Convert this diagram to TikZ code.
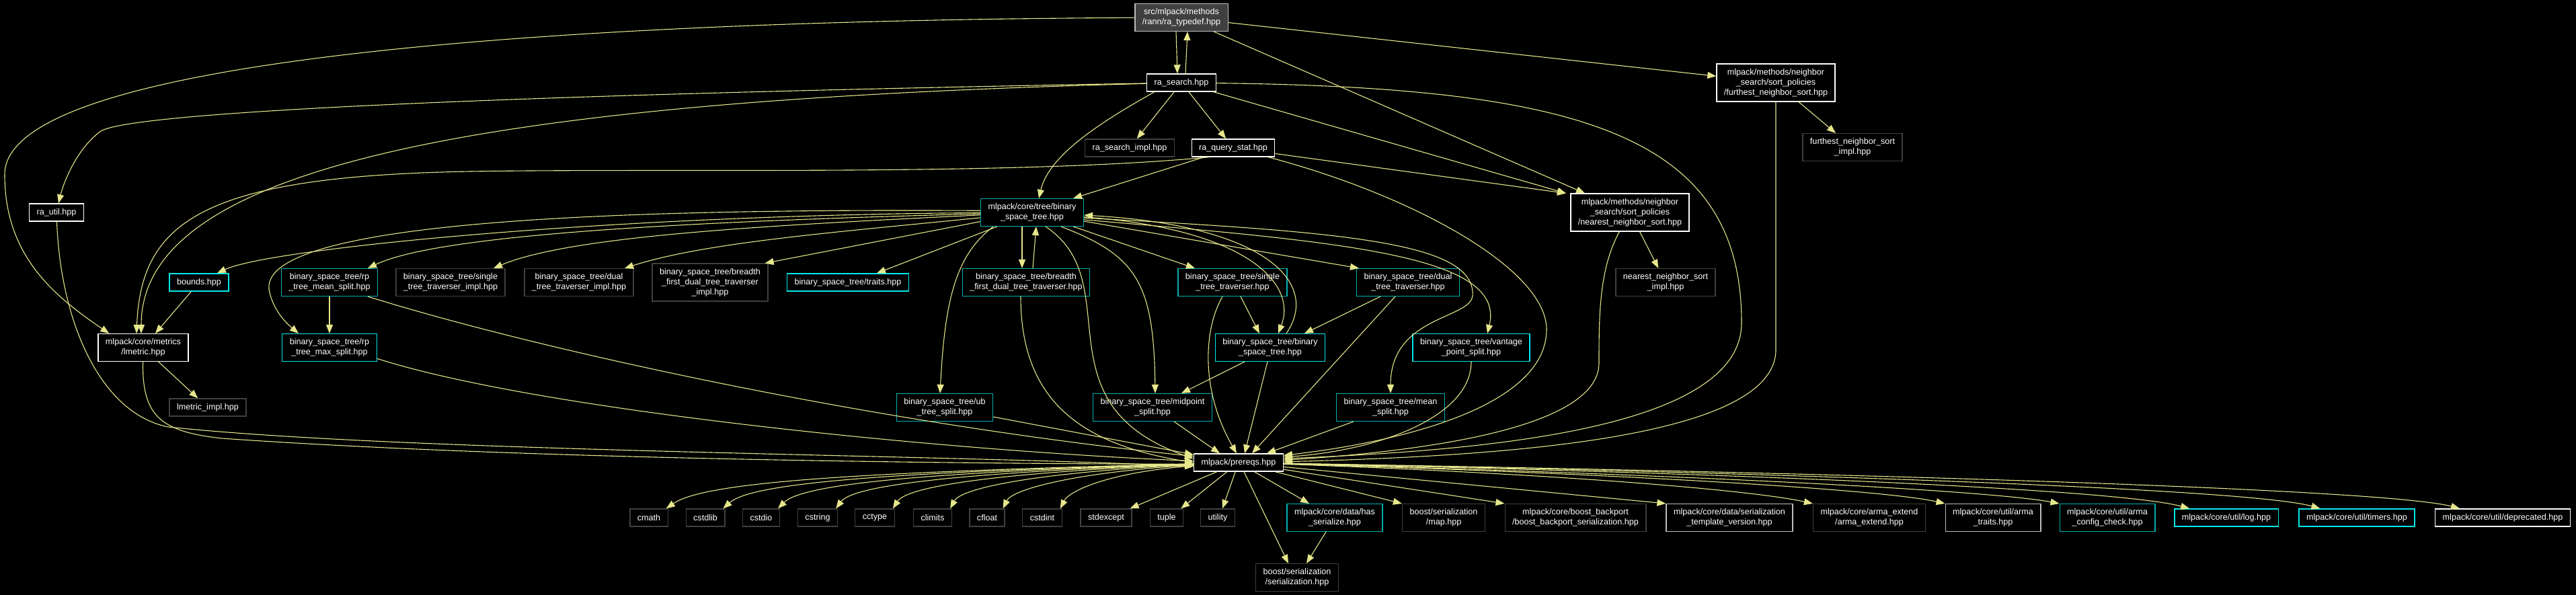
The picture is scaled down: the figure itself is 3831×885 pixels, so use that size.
\documentclass[tikz,border=0pt]{standalone}
\usepackage{fontspec}
\setmainfont{Liberation Sans}
\usetikzlibrary{arrows.meta}
\definecolor{edgecol}{RGB}{230,230,140}
\definecolor{tealline}{RGB}{0,176,176}
\definecolor{cyanline}{RGB}{0,232,232}
\definecolor{sysline}{RGB}{64,64,64}
\definecolor{greyline}{RGB}{190,190,190}
\definecolor{srcfill}{RGB}{64,64,64}
\newcommand{\hdrfont}{\fontsize{12.6}{15}\selectfont}

\begin{document}
\begin{tikzpicture}[x=1pt, y=-1pt, >={Triangle[length=13pt,width=10pt]},
  hdr/.style={draw, line width=1.3pt, fill=black, text=white, font=\hdrfont,
    align=center, inner xsep=11pt, inner ysep=7pt, minimum height=26pt},
  srcfile/.style={hdr, draw=greyline, fill=srcfill},
  docfile/.style={hdr, draw=white},
  greyfile/.style={hdr, draw=greyline},
  sysfile/.style={hdr, draw=sysline},
  treefile/.style={hdr, draw=tealline},
  cyanfile/.style={hdr, draw=cyanline},
  incl/.style={->, draw=edgecol, line width=1.1pt}]
  \fill[black] (0,0) rectangle (3831,885);
  \useasboundingbox (0,0) rectangle (3831,885);

  % the file itself and what it pulls in first
  \node[srcfile] (ra_typedef) at (1757,26) {src/mlpack/methods\\/rann/ra\_typedef.hpp};
  \node[docfile] (ra_search) at (1757,123) {ra\_search.hpp};
  \node[docfile] (fns) at (2641,123) {mlpack/methods/neighbor\\\_search/sort\_policies\\/furthest\_neighbor\_sort.hpp};
  \node[sysfile] (ra_search_impl) at (1680,220) {ra\_search\_impl.hpp};
  \node[docfile] (ra_query_stat) at (1834,220) {ra\_query\_stat.hpp};
  \node[sysfile] (fns_impl) at (2755,219) {furthest\_neighbor\_sort\\\_impl.hpp};
  \node[docfile] (ra_util) at (84,316) {ra\_util.hpp};
  \node[treefile] (bst) at (1535,316) {mlpack/core/tree/binary\\\_space\_tree.hpp};
  \node[docfile] (nns) at (2424,316) {mlpack/methods/neighbor\\\_search/sort\_policies\\/nearest\_neighbor\_sort.hpp};

  % tree headers
  \node[cyanfile] (bounds) at (296,420) {bounds.hpp};
  \node[treefile] (rp_mean) at (490,420) {binary\_space\_tree/rp\\\_tree\_mean\_split.hpp};
  \node[sysfile] (single_impl) at (670,420) {binary\_space\_tree/single\\\_tree\_traverser\_impl.hpp};
  \node[sysfile] (dual_impl) at (861,420) {binary\_space\_tree/dual\\\_tree\_traverser\_impl.hpp};
  \node[sysfile] (bf_impl) at (1056,420) {binary\_space\_tree/breadth\\\_first\_dual\_tree\_traverser\\\_impl.hpp};
  \node[cyanfile] (traits) at (1261,420) {binary\_space\_tree/traits.hpp};
  \node[treefile] (bf_trav) at (1526,420) {binary\_space\_tree/breadth\\\_first\_dual\_tree\_traverser.hpp};
  \node[treefile] (single_trav) at (1833,420) {binary\_space\_tree/single\\\_tree\_traverser.hpp};
  \node[treefile] (dual_trav) at (2094,420) {binary\_space\_tree/dual\\\_tree\_traverser.hpp};
  \node[sysfile] (nns_impl) at (2477,420) {nearest\_neighbor\_sort\\\_impl.hpp};
  \node[docfile] (metric) at (213,517) {mlpack/core/metrics\\/lmetric.hpp};
  \node[cyanfile] (rp_max) at (490,517) {binary\_space\_tree/rp\\\_tree\_max\_split.hpp};
  \node[cyanfile] (bst_bin) at (1889,517) {binary\_space\_tree/binary\\\_space\_tree.hpp};
  \node[cyanfile] (vp_split) at (2188,517) {binary\_space\_tree/vantage\\\_point\_split.hpp};
  \node[sysfile] (lmetric_impl) at (309,606) {lmetric\_impl.hpp};
  \node[treefile] (ub_split) at (1405,606) {binary\_space\_tree/ub\\\_tree\_split.hpp};
  \node[treefile] (mid_split) at (1714,606) {binary\_space\_tree/midpoint\\\_split.hpp};
  \node[treefile] (mean_split) at (2068,606) {binary\_space\_tree/mean\\\_split.hpp};

  % prereqs and its includes
  \node[docfile] (prereqs) at (1842,688) {mlpack/prereqs.hpp};
  \foreach \n/\x in {cmath/965, cstdlib/1049, cstdio/1132, cstring/1216, cctype/1301,
                     climits/1387, cfloat/1468, cstdint/1550, stdexcept/1645, tuple/1735, utility/1811}
    \node[sysfile] (\n) at (\x,770) {\n};
  \node[treefile] (has_ser) at (1985,770) {mlpack/core/data/has\\\_serialize.hpp};
  \node[sysfile] (boost_map) at (2147,770) {boost/serialization\\/map.hpp};
  \node[sysfile] (backport) at (2343,770) {mlpack/core/boost\_backport\\/boost\_backport\_serialization.hpp};
  \node[greyfile] (tmpl_ver) at (2572,770) {mlpack/core/data/serialization\\\_template\_version.hpp};
  \node[sysfile] (arma_ext) at (2780,770) {mlpack/core/arma\_extend\\/arma\_extend.hpp};
  \node[greyfile] (arma_traits) at (2964,770) {mlpack/core/util/arma\\\_traits.hpp};
  \node[treefile] (arma_cfg) at (3134,770) {mlpack/core/util/arma\\\_config\_check.hpp};
  \node[cyanfile] (log) at (3311,770) {mlpack/core/util/log.hpp};
  \node[cyanfile] (timers) at (3505,770) {mlpack/core/util/timers.hpp};
  \node[docfile] (deprecated) at (3722,770) {mlpack/core/util/deprecated.hpp};
  \node[sysfile] (boost_ser) at (1929,859) {boost/serialization\\/serialization.hpp};

  % edges: ra_typedef
  \draw[incl] ([xshift=-8pt]ra_typedef.south) -- ([xshift=-6pt]ra_search.north);
  \draw[incl] ([xshift=6pt]ra_search.north) -- ([xshift=9pt]ra_typedef.south);
  \draw[incl] (ra_typedef) -- (fns);
  \draw[incl] (ra_typedef) -- ([xshift=-67pt]nns.north);
  \draw[incl] (ra_typedef) .. controls (900,30) and (5,80) .. (7,260)
    .. controls (7,380) and (80,440) .. ([xshift=17pt]metric.north west);

  % edges: ra_search
  \draw[incl] (ra_search) .. controls (800,140) and (200,165) .. (150,195)
    .. controls (115,220) and (95,270) .. ([xshift=3pt]ra_util.north);
  \draw[incl] (ra_search) .. controls (700,150) and (210,250) .. ([xshift=-3pt]metric.north);
  \draw[incl] (ra_search) -- (ra_search_impl);
  \draw[incl] (ra_search) -- (ra_query_stat);
  \draw[incl] ([xshift=-40pt]ra_search.south) .. controls (1640,180) and (1560,230) .. ([xshift=10pt]bst.north);
  \draw[incl] (ra_search) -- ([xshift=-95pt]nns.north);
  \draw[incl] (ra_search) .. controls (2350,130) and (2590,200) .. (2590,480)
    .. controls (2590,640) and (2200,670) .. (prereqs.5);

  % edges: ra_query_stat
  \draw[incl] (ra_query_stat) -- ([xshift=-16pt]bst.north east);
  \draw[incl] (ra_query_stat) -- ([xshift=-95pt]nns.north);
  \draw[incl] ([xshift=-35pt]ra_query_stat.south) .. controls (1500,262) and (1000,250) .. (700,255)
    .. controls (300,262) and (210,330) .. ([xshift=-10pt]metric.north);
  \draw[incl] (ra_query_stat) .. controls (2100,290) and (2300,400) .. (2300,490)
    .. controls (2300,600) and (2100,655) .. (prereqs.9);

  % edges: sort policies
  \draw[incl] (nns) -- (nns_impl);
  \draw[incl] (nns) .. controls (2378,400) and (2378,470) .. (2378,540)
    .. controls (2378,640) and (2100,672) .. (prereqs.3);
  \draw[incl] (fns) -- (fns_impl);
  \draw[incl] (fns) -- (2641,520) .. controls (2641,650) and (2250,678) .. (prereqs.1);

  % edges: left side
  \draw[incl] (ra_util) .. controls (90,480) and (150,615) .. (250,635)
    .. controls (600,672) and (1400,676) .. (prereqs.185);
  \draw[incl] (metric) .. controls (211,620) and (240,642) .. (330,652)
    .. controls (800,685) and (1500,690) .. (prereqs.182);
  \draw[incl] (metric) -- (lmetric_impl);
  \draw[incl] (bounds) -- (metric);

  % edges: binary space tree
  \draw[incl] (bst) .. controls (900,320) and (400,370) .. ([xshift=27pt]bounds.north);
  \draw[incl] (bst) .. controls (1000,330) and (650,350) .. ([xshift=57pt]rp_mean.north);
  \draw[incl] (bst) .. controls (1150,335) and (850,350) .. ([xshift=64pt]single_impl.north);
  \draw[incl] (bst) .. controls (1250,345) and (1050,360) .. ([xshift=68pt]dual_impl.north);
  \draw[incl] (bst.190) -- ([xshift=-5pt]bf_impl.north east);
  \draw[incl] (bst.202) -- ([xshift=43pt]traits.north);
  \draw[incl] (bst.200) .. controls (1420,380) and (1405,450) .. ([xshift=-7pt]ub_split.north);
  \draw[incl] (bst.178) .. controls (900,310) and (390,330) .. (400,430)
    .. controls (405,460) and (425,480) .. ([xshift=-46pt]rp_max.north);
  \draw[incl] ([xshift=-15pt]bst.south) -- ([xshift=-6pt]bf_trav.north);
  \draw[incl] ([xshift=10pt]bf_trav.north) -- ([xshift=6pt]bst.south);
  \draw[incl] (bst) -- ([xshift=-56pt]single_trav.north);
  \draw[incl] (bst) -- ([xshift=-73pt]dual_trav.north);
  \draw[incl] (bst.-5) .. controls (1850,340) and (1930,420) .. ([xshift=12pt]bst_bin.north);
  \draw[incl] ([xshift=24pt]bst_bin.north) .. controls (1965,420) and (1880,335) .. (bst.-3);
  \draw[incl] (bst.-8) .. controls (2000,360) and (2240,380) .. ([xshift=24pt]vp_split.north);
  \draw[incl] (bst.-6) .. controls (2000,345) and (2195,360) .. (2190,440)
    .. controls (2186,475) and (2068,470) .. (mean_split.north);
  \draw[incl] ([xshift=43pt]bst.south) .. controls (1690,380) and (1716,420) .. ([xshift=4pt]mid_split.north);
  \draw[incl] ([xshift=20pt]bst.south) .. controls (1680,420) and (1540,600) .. (prereqs.175);

  % edges: traversers and splits
  \draw[incl] ([xshift=-8pt]bf_trav.south) .. controls (1518,590) and (1600,660) .. (prereqs.180);
  \draw[incl] ([xshift=12pt]single_trav.south) -- ([xshift=-16pt]bst_bin.north);
  \draw[incl] ([xshift=-15pt]single_trav.south) .. controls (1790,490) and (1785,580) .. ([xshift=-3pt]prereqs.north);
  \draw[incl] ([xshift=-41pt]dual_trav.south) -- ([xshift=51pt]bst_bin.north);
  \draw[incl] ([xshift=-19pt]dual_trav.south) -- ([xshift=20pt]prereqs.north);
  \draw[incl] ([xshift=-38pt]bst_bin.south) -- ([xshift=43pt]mid_split.north);
  \draw[incl] ([xshift=-4pt]bst_bin.south) -- ([xshift=9pt]prereqs.north);
  \draw[incl] (vp_split.south) .. controls (2188,620) and (2050,670) .. (prereqs.7);
  \draw[incl] ([xshift=-55pt]mean_split.south) -- ([xshift=42pt]prereqs.north);
  \draw[incl] ([xshift=32pt]mid_split.south) -- ([xshift=-28pt]prereqs.north);
  \draw[incl] (ub_split.-11) -- (prereqs.170);
  \draw[incl] (rp_mean) -- (rp_max);
  \draw[incl] ([xshift=57pt]rp_mean.south) .. controls (800,520) and (1300,630) .. (prereqs.172);
  \draw[incl] (rp_max.-13) .. controls (800,610) and (1400,670) .. (prereqs.178);

  % edges: prereqs to its includes
  \foreach \n/\ax/\bx/\by in {cmath/1300/1050/715, cstdlib/1350/1120/716, cstdio/1400/1195/718,
                              cstring/1450/1270/720, cctype/1500/1350/722, climits/1550/1430/725,
                              cfloat/1600/1505/728, cstdint/1650/1590/730}
    \draw[incl] (prereqs) .. controls (\ax,702) and (\bx,\by) .. ([xshift=-3pt]\n.north east);
  \draw[incl] (prereqs) -- ([xshift=-3pt]stdexcept.north east);
  \draw[incl] (prereqs) -- ([xshift=-4pt]tuple.north east);
  \draw[incl] (prereqs) -- ([xshift=7pt]utility.north);
  \draw[incl] (prereqs) -- ([xshift=-38pt]has_ser.north);
  \draw[incl] (prereqs) -- (boost_map.north west);
  \draw[incl] (prereqs) -- (backport.north west);
  \draw[incl] (prereqs) -- (tmpl_ver.north west);
  \foreach \n/\ax/\bx/\dx in {arma_ext/2300/2600/0, arma_traits/2400/2800/0, arma_cfg/2450/2950/0,
                              log/2600/3150/23, timers/2700/3350/32, deprecated/2800/3550/37}
    \draw[incl] (prereqs) .. controls (\ax,704) and (\bx,728) .. ([xshift=\dx pt]\n.north west);
  \draw[incl] ([xshift=8pt]prereqs.south) -- ([xshift=-13pt]boost_ser.north);
  \draw[incl] ([xshift=-13pt]has_ser.south) -- ([xshift=14pt]boost_ser.north);
\end{tikzpicture}
\end{document}
